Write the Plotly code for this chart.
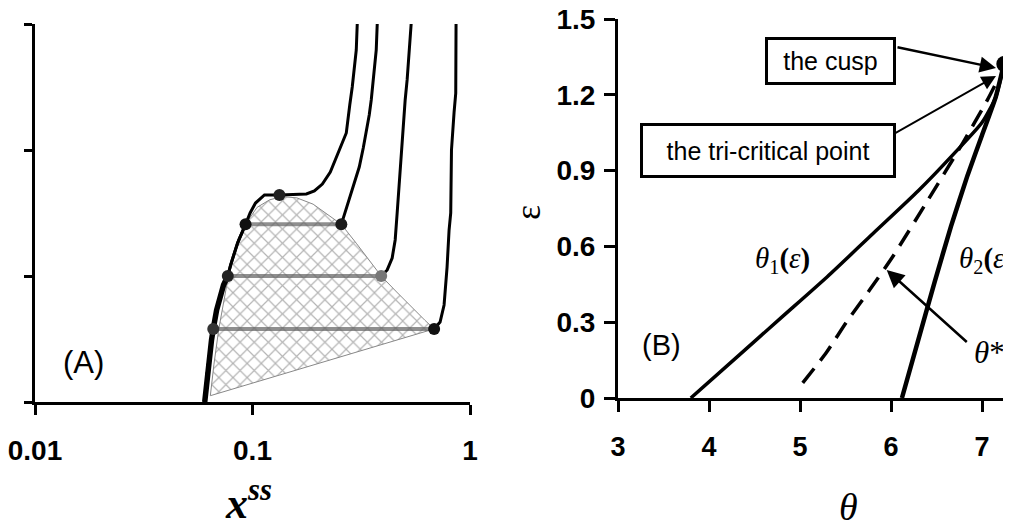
import plotly.graph_objects as go

# ---------------- Panel A data (x^ss on log axis) ----------------
branch_x = [0.0603, 0.0622, 0.0648, 0.0660, 0.0684, 0.0736, 0.0770, 0.0793, 0.0854, 0.0929]
branch_y = [0.0, 0.254, 0.492, 0.58, 0.730, 0.929, 1.0, 1.087, 1.262, 1.41]

c1_x = [0.0975, 0.1032, 0.1135, 0.1330, 0.1769, 0.1925, 0.2095, 0.2279, 0.2428, 0.2533, 0.2699, 0.2800, 0.2875, 0.3000, 0.3031]
c1_y = [1.50, 1.579, 1.643, 1.643, 1.651, 1.675, 1.730, 1.825, 1.944, 2.016, 2.135, 2.357, 2.5, 2.794, 3.0]

c2_x = [0.2561, 0.2671, 0.2786, 0.2937, 0.3096, 0.3230, 0.3334, 0.3441, 0.3515, 0.3628, 0.3706, 0.3745]
c2_y = [1.41, 1.508, 1.603, 1.738, 1.865, 2.016, 2.135, 2.278, 2.397, 2.635, 2.794, 3.0]

c3_x = [0.3906, 0.4162, 0.4387, 0.4529, 0.4625, 0.4775, 0.4877, 0.5034, 0.5140, 0.5250, 0.5363]
c3_y = [1.0, 1.048, 1.143, 1.286, 1.5, 1.841, 2.135, 2.397, 2.556, 2.794, 3.0]

c4_x = [0.684, 0.7286, 0.7600, 0.7845, 0.8013, 0.8155, 0.8220, 0.8300, 0.8450, 0.8599, 0.8627]
c4_y = [0.58, 0.635, 0.770, 1.071, 1.365, 1.5, 2.0, 2.135, 2.30, 2.45, 3.0]

tie_y = [1.41, 1.0, 0.58]
tie_left = [0.0929, 0.0770, 0.0660]
tie_right = [0.2561, 0.3906, 0.684]

dome_x = [0.0640, 0.0665, 0.0700, 0.0775, 0.0860, 0.0935, 0.1050, 0.1200, 0.1370, 0.1600,
          0.1900, 0.2250, 0.2561, 0.3000, 0.3500, 0.3906, 0.4600, 0.5400, 0.6200, 0.6840, 0.0640]
dome_y = [0.050, 0.300, 0.580, 1.000, 1.300, 1.420, 1.545, 1.605, 1.630, 1.620,
          1.570, 1.480, 1.410, 1.260, 1.110, 1.000, 0.873, 0.750, 0.649, 0.580, 0.050]

dots_x = [0.0929, 0.2561, 0.1330, 0.684, 0.0770, 0.0660, 0.3906]
dots_y = [1.41, 1.41, 1.643, 0.58, 1.0, 0.58, 1.0]
dots_col = ["#111", "#1a1a1a", "#222", "#111", "#222", "#333", "#777"]

xA_ticks = [0.01, 0.1, 1]
xA_text = ["0.01", "0.1", "1"]
yA_ticks = [0, 1, 2, 3]

# ---------------- Panel B data ----------------
th1_x = [3.80, 4.30, 4.80, 5.30, 5.80, 6.30, 6.70, 7.00, 7.15, 7.24]
th1_y = [0.0, 0.16, 0.32, 0.48, 0.65, 0.82, 0.97, 1.09, 1.19, 1.32]

ths_x = [5.03, 5.29, 5.51, 5.77, 6.02, 6.40, 6.79, 7.06, 7.16]
ths_y = [0.06, 0.18, 0.30, 0.43, 0.56, 0.78, 1.01, 1.18, 1.25]

th2_x = [6.12, 6.30, 6.48, 6.66, 6.84, 7.00, 7.15, 7.24]
th2_y = [0.0, 0.23, 0.46, 0.68, 0.88, 1.04, 1.19, 1.32]

cusp_x = [7.245]
cusp_y = [1.322]

xB_ticks = [3, 4, 5, 6, 7]
yB_ticks = [0, 0.3, 0.6, 0.9, 1.2, 1.5]
yB_text = ["0", "0.3", "0.6", "0.9", "1.2", "1.5"]

# the page places the figure 8 px in from the window's top-left corner
OFF = 8
W, H = 1011 - OFF, 525 - OFF
def px(x):
    return (x - OFF) / W
def py(y):
    return 1 - (y - OFF) / H

fig = go.Figure()

# dome (hatched)
fig.add_trace(go.Scatter(x=dome_x, y=dome_y, xaxis="x", yaxis="y", mode="lines",
                         fill="toself", fillcolor="rgba(0,0,0,0)",
                         fillpattern=dict(shape="x", size=10, solidity=0.22, fgcolor="#6a6a6a", bgcolor="white"),
                         line=dict(color="#888", width=1), hoverinfo="skip"))

# tie lines
for yv, xl, xr in zip(tie_y, tie_left, tie_right):
    fig.add_trace(go.Scatter(x=[xl, xr], y=[yv, yv], xaxis="x", yaxis="y", mode="lines",
                             line=dict(color="rgba(95,95,95,0.7)", width=4)))

def seg(bx, by, ytop):
    xs, ys = [], []
    for a, b in zip(bx, by):
        if b <= ytop + 1e-9:
            xs.append(a); ys.append(b)
    return xs, ys

# thick bundled lower branch
bbx, bby = seg(branch_x, branch_y, 1.0)
fig.add_trace(go.Scatter(x=bbx, y=bby, xaxis="x", yaxis="y", mode="lines",
                         line=dict(color="black", width=5.5)))

b1x, b1y = seg(branch_x, branch_y, 1.41)
fig.add_trace(go.Scatter(x=b1x + c1_x, y=b1y + c1_y, xaxis="x", yaxis="y", mode="lines",
                         line=dict(color="black", width=3)))
fig.add_trace(go.Scatter(x=b1x + [None] + c2_x, y=b1y + [None] + c2_y, xaxis="x", yaxis="y",
                         mode="lines", line=dict(color="black", width=3)))
b3x, b3y = seg(branch_x, branch_y, 1.0)
fig.add_trace(go.Scatter(x=b3x + [None] + c3_x, y=b3y + [None] + c3_y, xaxis="x", yaxis="y",
                         mode="lines", line=dict(color="black", width=3)))
b4x, b4y = seg(branch_x, branch_y, 0.58)
fig.add_trace(go.Scatter(x=b4x + [None] + c4_x, y=b4y + [None] + c4_y, xaxis="x", yaxis="y",
                         mode="lines", line=dict(color="black", width=3)))

fig.add_trace(go.Scatter(x=dots_x, y=dots_y, xaxis="x", yaxis="y", mode="markers",
                         marker=dict(color=dots_col, size=12)))

# panel B
fig.add_trace(go.Scatter(x=th1_x, y=th1_y, xaxis="x2", yaxis="y2", mode="lines",
                         line=dict(color="black", width=3.5, shape="spline", smoothing=0.6)))
fig.add_trace(go.Scatter(x=ths_x, y=ths_y, xaxis="x2", yaxis="y2", mode="lines",
                         line=dict(color="black", width=3.5, dash="18px,10px", shape="spline", smoothing=0.6)))
fig.add_trace(go.Scatter(x=th2_x, y=th2_y, xaxis="x2", yaxis="y2", mode="lines",
                         line=dict(color="black", width=4.5, shape="spline", smoothing=0.4)))
fig.add_trace(go.Scatter(x=cusp_x, y=cusp_y, xaxis="x2", yaxis="y2", mode="markers",
                         marker=dict(color="black", size=16), cliponaxis=False))

sans = "Arial, Liberation Sans, sans-serif"
serif = "Times New Roman, Liberation Serif, serif"
axis_common = dict(showline=True, linecolor="black", linewidth=3, ticks="outside",
                   tickcolor="black", tickwidth=3, showgrid=False, zeroline=False,
                   automargin=False, ticklabeloverflow="allow")

fig.update_layout(
    width=W, height=H, margin=dict(l=0, r=0, t=0, b=0, autoexpand=False),
    paper_bgcolor="white", plot_bgcolor="white", showlegend=False,
    xaxis=dict(type="log", range=[-2, 0], domain=[px(35), px(470)], anchor="y",
               tickvals=xA_ticks, ticktext=xA_text, ticklen=10, ticklabelstandoff=11,
               tickfont=dict(family=sans, size=28, color="black", weight="bold"), **axis_common),
    yaxis=dict(range=[0, 3], domain=[py(402), py(24)], anchor="x",
               tickvals=yA_ticks, ticklen=8, showticklabels=False, **axis_common),
    xaxis2=dict(range=[3, 3 + (1011 - 618) / 91], domain=[px(618), 1.0], anchor="y2",
                tickvals=xB_ticks, ticklen=11, ticklabelstandoff=12,
                tickfont=dict(family=sans, size=27, color="black", weight="bold"), **axis_common),
    yaxis2=dict(range=[0, 1.5], domain=[py(398), py(19)], anchor="x2",
                tickvals=yB_ticks, ticktext=yB_text, ticklen=11, ticklabelstandoff=3,
                tickfont=dict(family=sans, size=28, color="black", weight="bold"), **axis_common),
)

ann = []
def text(x, y, t, size, family=sans, xanchor="center", **kw):
    ann.append(dict(x=x, y=y, xref="paper", yref="paper", text=t, showarrow=False,
                    xanchor=xanchor, yanchor="middle", font=dict(family=family, size=size, color="black"), **kw))

text(px(83.5), py(362), "(A)", 31)
text(px(661), py(345), "(B)", 29)
text(px(248), py(500), "<b><i>x</i></b><sup><b><i>ss</i></b></sup>", 44, family=serif)
text(px(848), py(507), "<i>θ</i>", 38, family=serif)
text(px(528), py(213), "ε", 36, family=serif, textangle=-90)
text(px(782), py(260), "<i>θ</i><sub>1</sub><b>(</b><i>ε</i><b>)</b>", 29, family=serif)
text(px(957), py(260), "<i>θ</i><sub>2</sub><b>(</b><i>ε</i><b>)</b>", 29, family=serif, xanchor="left")
text(px(972), py(352), "<i>θ</i>*", 31, family=serif, xanchor="left")
text(px(830.5), py(61), "the cusp", 25, bordercolor="black", borderwidth=3, borderpad=0,
     width=125, height=42)
text(px(768), py(150.5), "the tri-critical point", 25, bordercolor="black", borderwidth=3,
     borderpad=0, width=250, height=49)

def arrow(tip, tail, w, size):
    ann.append(dict(x=px(tip[0]), y=py(tip[1]), ax=tail[0] - tip[0], ay=tail[1] - tip[1],
                    xref="paper", yref="paper", axref="pixel", ayref="pixel", text="",
                    showarrow=True, arrowhead=2, arrowsize=size, arrowwidth=w, arrowcolor="black"))

arrow((996, 68), (896, 47), 2.5, 1.3)
arrow((996, 76), (892, 135), 1.8, 1.6)
arrow((886.7, 270), (968.3, 343.3), 2.5, 1.4)

fig.update_layout(annotations=ann)
fig.write_html("out.html")
